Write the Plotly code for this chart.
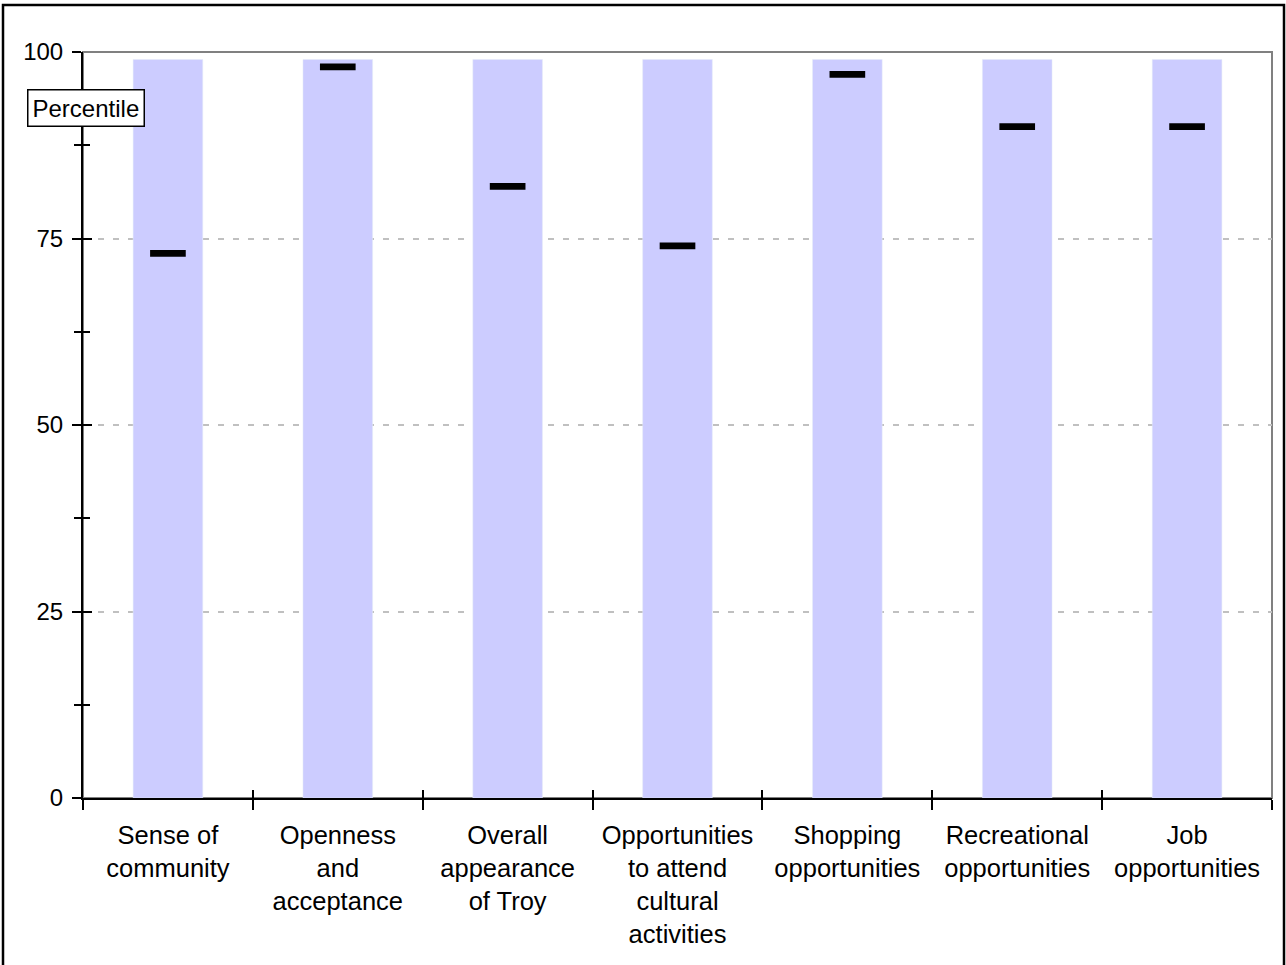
import plotly.graph_objects as go

# Data
categories = [
    "Sense of<br>community",
    "Openness<br>and<br>acceptance",
    "Overall<br>appearance<br>of Troy",
    "Opportunities<br>to attend<br>cultural<br>activities",
    "Shopping<br>opportunities",
    "Recreational<br>opportunities",
    "Job<br>opportunities",
]
range_top = [99, 99, 99, 99, 99, 99, 99]
percentile = [73, 98, 82, 74, 97, 90, 90]

W, H = 1286, 965
M_L, M_R, M_T, M_B = 83, 14, 52, 167
plot_w = W - M_L - M_R
plot_h = H - M_T - M_B

FONT = "Liberation Sans, Arial, sans-serif"
mark_h = 0.9

fig = go.Figure()

# light purple range bars
fig.add_trace(go.Bar(
    x=categories, y=range_top,
    marker=dict(color="#CCCCFF", line=dict(width=0)),
    width=0.41, hoverinfo="skip", showlegend=False,
))

# black percentile markers
fig.add_trace(go.Bar(
    x=categories, y=[mark_h] * len(percentile),
    base=[v - mark_h / 2 for v in percentile],
    marker=dict(color="black", line=dict(width=0)),
    width=0.21, showlegend=False,
))

# invisible copy on overlay axes so the inner ticks render
fig.add_trace(go.Bar(
    x=categories, y=range_top, xaxis="x2", yaxis="y2",
    marker=dict(color="rgba(0,0,0,0)"), width=0.41,
    hoverinfo="skip", showlegend=False,
))

fig.update_layout(
    width=W, height=H,
    margin=dict(l=M_L, r=M_R, t=M_T, b=M_B),
    plot_bgcolor="white", paper_bgcolor="white",
    font=dict(family=FONT, size=24, color="black"),
    barmode="overlay",
    xaxis=dict(
        type="category", range=[-0.5, 6.5],
        showline=True, linecolor="black", linewidth=2,
        ticks="outside", tickson="boundaries", ticklen=10,
        tickcolor="black", tickwidth=2, ticklabelstandoff=13,
        tickfont=dict(size=25.5), showgrid=False, zeroline=False,
    ),
    yaxis=dict(
        range=[0, 100], tickvals=[0, 25, 50, 75, 100],
        showline=True, linecolor="black", linewidth=2,
        ticks="outside", ticklen=9, tickcolor="black", tickwidth=2,
        ticklabelstandoff=4,
        minor=dict(dtick=12.5, ticks="outside", ticklen=7,
                   tickcolor="black", tickwidth=2, showgrid=False),
        showgrid=True, gridcolor="#C0C0C0", gridwidth=2, griddash="6px,9px",
        zeroline=False, tickfont=dict(size=24),
    ),
    xaxis2=dict(
        type="category", range=[-0.5, 6.5], overlaying="x",
        ticks="inside", tickson="boundaries", ticklen=8,
        tickcolor="black", tickwidth=2, showticklabels=False,
        showgrid=False, zeroline=False, showline=False,
    ),
    yaxis2=dict(
        range=[0, 100], tickvals=[0, 25, 50, 75, 100], overlaying="y",
        ticks="inside", ticklen=9, tickcolor="black", tickwidth=2,
        minor=dict(dtick=12.5, ticks="inside", ticklen=7,
                   tickcolor="black", tickwidth=2, showgrid=False),
        showticklabels=False, showgrid=False, zeroline=False, showline=False,
    ),
)

# gray plot-area frame (top and right)
fig.add_shape(type="rect", xref="paper", yref="paper", x0=0, x1=1, y0=0, y1=1,
              line=dict(color="#808080", width=2), layer="below")


# screen px -> paper coords
def px_x(px):
    return (px - M_L) / plot_w


def px_y(px):
    return (M_T + plot_h - px) / plot_h


# outer chart border
fig.add_shape(type="rect", xref="paper", yref="paper",
              x0=px_x(3), x1=px_x(1284), y0=px_y(968), y1=px_y(5),
              line=dict(color="black", width=2.5))

fig.add_annotation(
    text="Percentile", xref="paper", yref="y",
    x=px_x(86), y=92.5, xanchor="center", yanchor="middle",
    showarrow=False, font=dict(size=24, family=FONT),
    bgcolor="white", bordercolor="black", borderwidth=1.5, borderpad=4,
)

# drop the default body margin so the figure sits at the page corner
fig.write_html("out.html", config={"displayModeBar": False},
               post_script="document.body.style.margin='0';")
